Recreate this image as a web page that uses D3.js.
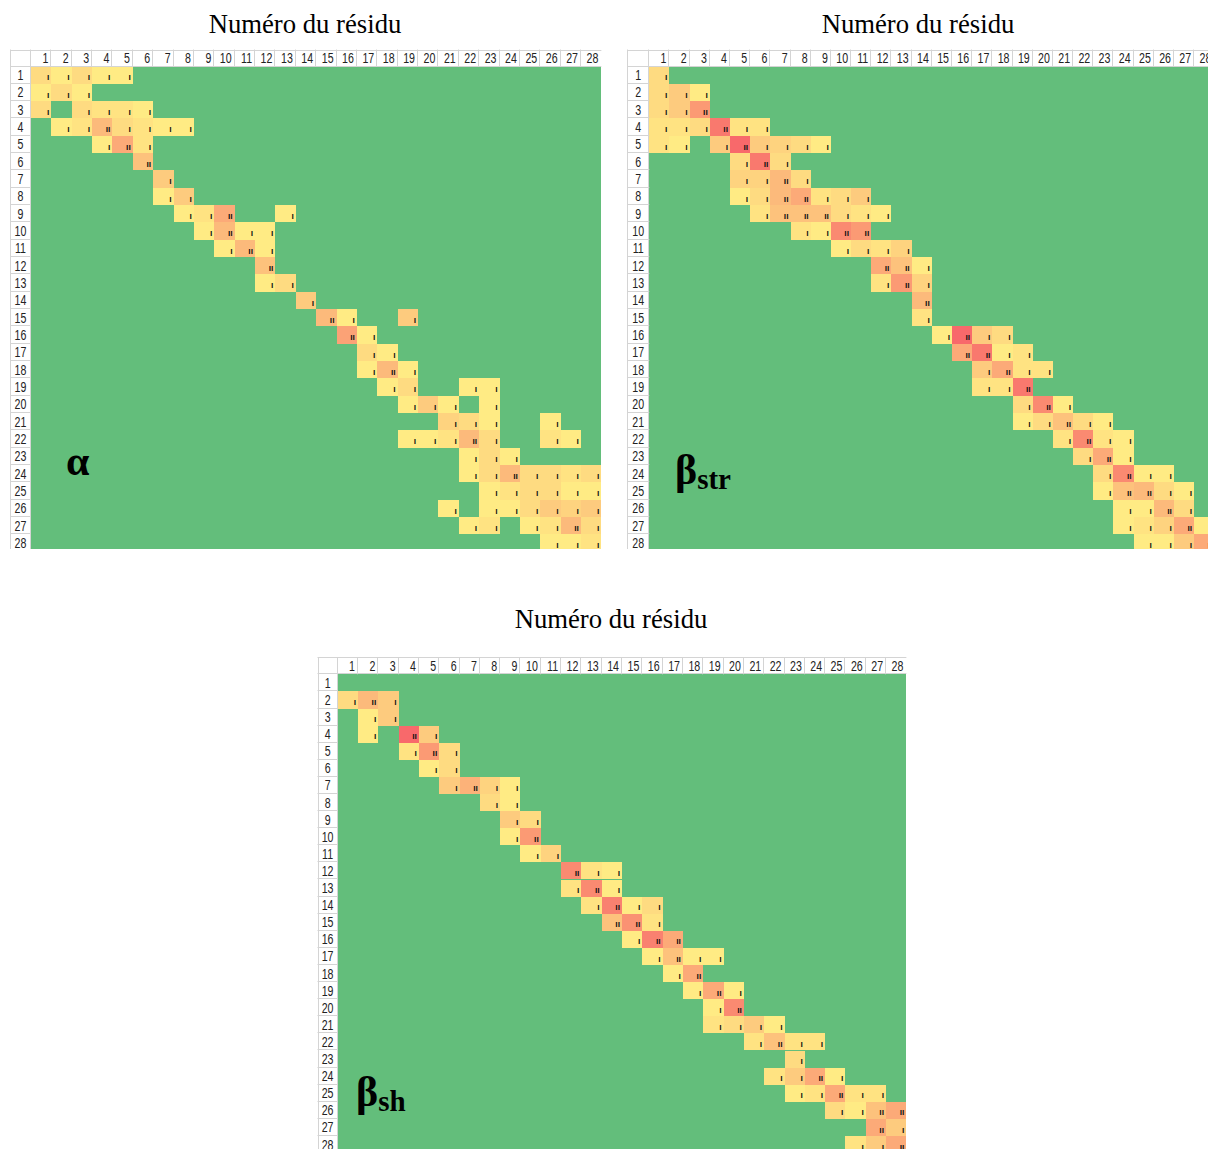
<!DOCTYPE html>
<html><head><meta charset="utf-8">
<script src="https://cdn.jsdelivr.net/npm/d3@7"></script>
<style>body{margin:0;background:#fff}svg{display:block}</style>
</head><body>
<svg id="c" width="1208" height="1149"></svg>
<script>
// ---------------- data ----------------
const residues = d3.range(1, 29);            // tick labels 1..28 (rows and columns)
const titleText = "Numéro du résidu";

// [row, column, intensity]  (cells not listed are 0 = green)
const alphaCells = [
 [1,1,2],[1,2,1],[1,3,2],[1,4,1],[1,5,1],
 [2,1,1],[2,2,2],[2,3,1],
 [3,1,2],[3,3,2],[3,4,1.5],[3,5,1.5],[3,6,1],
 [4,2,1],[4,3,1.5],[4,4,4],[4,5,2],[4,6,1.5],[4,7,1],[4,8,1],
 [5,4,1],[5,5,5],[5,6,1.5],
 [6,6,3.5],
 [7,7,3],
 [8,7,1],[8,8,3],
 [9,8,1],[9,9,1.5],[9,10,5],[9,13,1],
 [10,9,1],[10,10,4],[10,11,1],[10,12,1],
 [11,10,1],[11,11,4],[11,12,1],
 [12,12,3.5],
 [13,12,1],[13,13,2],
 [14,14,3],
 [15,15,4],[15,16,1],[15,19,3],
 [16,16,5.5],[16,17,1],
 [17,17,2],[17,18,1],
 [18,17,1],[18,18,4],[18,19,1],
 [19,18,1],[19,19,2],[19,22,1],[19,23,1],
 [20,19,1],[20,20,3],[20,21,1],[20,23,1],
 [21,21,2.5],[21,22,2],[21,23,1],[21,26,1],
 [22,19,1],[22,20,1],[22,21,1.5],[22,22,4],[22,23,2],[22,26,1.5],[22,27,1],
 [23,22,1],[23,23,2],[23,24,1],
 [24,22,1],[24,23,2],[24,24,4],[24,25,2],[24,26,2],[24,27,1.5],[24,28,2],
 [25,23,1],[25,24,1.5],[25,25,2],[25,26,2],[25,27,1],[25,28,1],
 [26,21,1],[26,23,1],[26,24,1],[26,25,2],[26,26,3],[26,27,2.5],[26,28,3],
 [27,22,1],[27,23,1.5],[27,25,1],[27,26,1.5],[27,27,4],[27,28,2],
 [28,26,1],[28,27,1],[28,28,1.5]
];

const betaStrCells = [
 [1,1,2],
 [2,1,2],[2,2,3],[2,3,1],
 [3,1,2],[3,2,3],[3,3,6],
 [4,1,1.5],[4,2,1.5],[4,3,2],[4,4,8],[4,5,1.5],[4,6,1.5],
 [5,1,1.5],[5,2,1],[5,4,3],[5,5,9],[5,6,3],[5,7,2.5],[5,8,2],[5,9,1],
 [6,5,2],[6,6,8],[6,7,2],
 [7,5,2.5],[7,6,2.5],[7,7,4],[7,8,2],
 [8,5,1],[8,6,2],[8,7,4],[8,8,5],[8,9,1.5],[8,10,2],[8,11,3],
 [9,6,1.5],[9,7,3.5],[9,8,3.5],[9,9,3.5],[9,10,2],[9,11,1.5],[9,12,1],
 [10,8,1.5],[10,9,1],[10,10,7],[10,11,6],
 [11,10,1],[11,11,2],[11,12,1.5],[11,13,2.5],
 [12,12,5],[12,13,3.5],[12,14,1],
 [13,12,1.5],[13,13,6],[13,14,2.5],
 [14,14,4],
 [15,14,1.5],
 [16,15,1],[16,16,9],[16,17,3],[16,18,2],
 [17,16,5],[17,17,8],[17,18,1],[17,19,1.5],
 [18,17,3],[18,18,5],[18,19,1.5],[18,20,1.5],
 [19,17,1.5],[19,18,1.5],[19,19,8],
 [20,19,2],[20,20,7],[20,21,1],
 [21,19,1],[21,20,2],[21,21,3.5],[21,22,2],[21,23,1],
 [22,21,1.5],[22,22,7],[22,23,1.5],[22,24,1],
 [23,22,2],[23,23,5],[23,24,1],
 [24,23,2],[24,24,7],[24,25,1],[24,26,1],
 [25,23,1],[25,24,3.5],[25,25,4],[25,26,2],[25,27,1],
 [26,24,1],[26,25,1],[26,26,4],[26,27,2],
 [27,24,1],[27,25,1.5],[27,26,2.5],[27,27,5],[27,28,1],
 [28,25,1],[28,26,1],[28,27,3],[28,28,5]
];

const betaShCells = [
 [2,1,2],[2,2,4],[2,3,3],
 [3,2,1],[3,3,3],
 [4,2,1],[4,4,9],[4,5,3],
 [5,4,1.5],[5,5,6],[5,6,2],
 [6,5,1],[6,6,2],
 [7,6,3],[7,7,4.5],[7,8,2.5],[7,9,1],
 [8,8,2],[8,9,1],
 [9,9,3],[9,10,2],
 [10,9,1],[10,10,6],
 [11,10,1],[11,11,2.5],
 [12,12,7],[12,13,1.5],[12,14,1],
 [13,12,1.5],[13,13,7],[13,14,1],
 [14,13,1.5],[14,14,7.5],[14,15,1],[14,16,2],
 [15,14,3.5],[15,15,6.5],[15,16,1.5],
 [16,15,1],[16,16,7.5],[16,17,5],
 [17,16,1],[17,17,3.5],[17,18,1],[17,19,1],
 [18,17,1],[18,18,5],
 [19,18,1],[19,19,5],[19,20,1],
 [20,19,1],[20,20,7],
 [21,19,1.5],[21,20,2],[21,21,3],[21,22,1],
 [22,21,1.5],[22,22,3.5],[22,23,1.5],[22,24,1.5],
 [23,23,2],
 [24,22,1.5],[24,23,3],[24,24,5],[24,25,1],
 [25,23,1],[25,24,1.5],[25,25,5],[25,26,1.5],[25,27,1.5],
 [26,25,2],[26,26,1],[26,27,3.5],[26,28,5],
 [27,27,5],[27,28,3],
 [28,26,1.5],[28,27,3],[28,28,5]
];

// ---------------- styles / layout ----------------
const GREEN = "#63BE7B";
const color = d3.scaleLinear().domain([1, 9]).range(["#FFEB84", "#F8696B"]).clamp(true);

const panels = [
  {cells: alphaCells, main: "α", sub: "",
   left: 10, top: 49.5, x0: 31, cw: 20.37, y0: 66.5, rh: 17.33, clipB: 549,
   titleX: 305, titleY: 33, labX: 66, labY: 475},
  {cells: betaStrCells, main: "β", sub: "str",
   left: 627, top: 49.5, x0: 649.3, cw: 20.18, y0: 66.5, rh: 17.33, clipB: 549,
   titleX: 918, titleY: 33, labX: 675, labY: 484},
  {cells: betaShCells, main: "β", sub: "sh",
   left: 317.5, top: 657.3, x0: 337.7, cw: 20.31, y0: 674.3, rh: 17.1, clipB: 1149,
   titleX: 611, titleY: 628, labX: 356, labY: 1106}
];

const svg = d3.select("#c");
const defs = svg.append("defs");
const GRID = "#D4D4D4";
const LABEL_FONT = "'Liberation Sans', Arial, sans-serif";

panels.forEach((p, i) => {
  const xEnd = p.x0 + 28 * p.cw, yEnd = p.y0 + 28 * p.rh;
  const x = d3.scaleBand().domain(residues).range([p.x0, xEnd]);
  const y = d3.scaleBand().domain(residues).range([p.y0, yEnd]);
  const rx = d => Math.round(x(d)), rw = d => Math.round(x(d) + x.bandwidth()) - Math.round(x(d));
  const ry = d => Math.round(y(d)), rhh = d => Math.round(y(d) + y.bandwidth()) - Math.round(y(d));

  defs.append("clipPath").attr("id", "clip" + i)
    .append("rect").attr("x", p.left - 1).attr("y", p.top - 1)
    .attr("width", Math.min(1208, xEnd + 1) - p.left + 1).attr("height", p.clipB - p.top + 1);

  // title
  svg.append("text").attr("x", p.titleX).attr("y", p.titleY)
    .attr("text-anchor", "middle")
    .attr("font-family", "'Liberation Serif', 'Times New Roman', serif")
    .attr("font-size", 26.7).attr("fill", "#000").text(titleText);

  const g = svg.append("g").attr("clip-path", `url(#clip${i})`);

  // header backgrounds
  g.append("rect").attr("x", p.left).attr("y", p.top).attr("width", xEnd - p.left).attr("height", p.y0 - p.top).attr("fill", "#fff");
  g.append("rect").attr("x", p.left).attr("y", p.y0).attr("width", p.x0 - p.left).attr("height", yEnd - p.y0).attr("fill", "#fff");

  // green base
  g.append("rect").attr("x", Math.round(p.x0)).attr("y", Math.round(p.y0))
    .attr("width", Math.round(xEnd) - Math.round(p.x0)).attr("height", Math.round(yEnd) - Math.round(p.y0))
    .attr("fill", GREEN);

  // coloured cells
  g.selectAll("rect.cell").data(p.cells).join("rect").attr("class", "cell")
    .attr("x", d => rx(d[1])).attr("y", d => ry(d[0]))
    .attr("width", d => rw(d[1])).attr("height", d => rhh(d[0]))
    .attr("fill", d => color(d[2]));

  // tiny value marks
  g.selectAll("text.mark").data(p.cells).join("text").attr("class", "mark")
    .attr("x", d => x(d[1]) + x.bandwidth() - 2)
    .attr("y", d => y(d[0]) + y.bandwidth() * 0.8)
    .attr("text-anchor", "end")
    .attr("font-family", LABEL_FONT).attr("font-weight", "bold")
    .attr("font-size", 8.5).attr("fill", "#111")
    .text(d => d[2] >= 3.5 ? "ıı" : "ı");

  // header grid lines
  g.append("line").attr("x1", p.left).attr("x2", xEnd).attr("y1", Math.round(p.top) + 0.5).attr("y2", Math.round(p.top) + 0.5).attr("stroke", GRID);
  g.append("line").attr("x1", p.left).attr("x2", xEnd).attr("y1", Math.round(p.y0) - 0.5).attr("y2", Math.round(p.y0) - 0.5).attr("stroke", GRID);
  g.append("line").attr("x1", Math.round(p.left) + 0.5).attr("x2", Math.round(p.left) + 0.5).attr("y1", p.top).attr("y2", yEnd).attr("stroke", GRID);
  g.selectAll("line.vc").data(residues).join("line").attr("class", "vc")
    .attr("x1", d => rx(d) - 0.5).attr("x2", d => rx(d) - 0.5)
    .attr("y1", p.top).attr("y2", d => d === 1 ? yEnd : p.y0)
    .attr("stroke", GRID);
  g.selectAll("line.hr").data(residues).join("line").attr("class", "hr")
    .attr("x1", p.left).attr("x2", p.x0)
    .attr("y1", d => ry(d) + rhh(d) - 0.5).attr("y2", d => ry(d) + rhh(d) - 0.5)
    .attr("stroke", GRID);

  // column header labels
  g.selectAll("text.ch").data(residues).join("text").attr("class", "ch")
    .attr("transform", d => `translate(${x(d) + x.bandwidth() - 3},${p.top + 13.8}) scale(0.76,1)`)
    .attr("text-anchor", "end").attr("font-family", LABEL_FONT)
    .attr("font-size", 14).attr("fill", "#222").text(d => d);

  // row header labels
  g.selectAll("text.rh").data(residues).join("text").attr("class", "rh")
    .attr("transform", d => `translate(${(p.left + p.x0) / 2},${y(d) + 13.5}) scale(0.76,1)`)
    .attr("text-anchor", "middle").attr("font-family", LABEL_FONT)
    .attr("font-size", 14).attr("fill", "#222").text(d => d);

  // panel label (α, βstr, βsh)
  const t = svg.append("text").attr("x", p.labX).attr("y", p.labY)
    .attr("font-family", "'Liberation Serif', 'Times New Roman', serif")
    .attr("font-weight", "bold").attr("fill", "#000");
  t.append("tspan").attr("font-size", 42).text(p.main);
  if (p.sub) t.append("tspan").attr("font-size", 29).attr("dy", 5).text(p.sub);
});
</script>
</body></html>
